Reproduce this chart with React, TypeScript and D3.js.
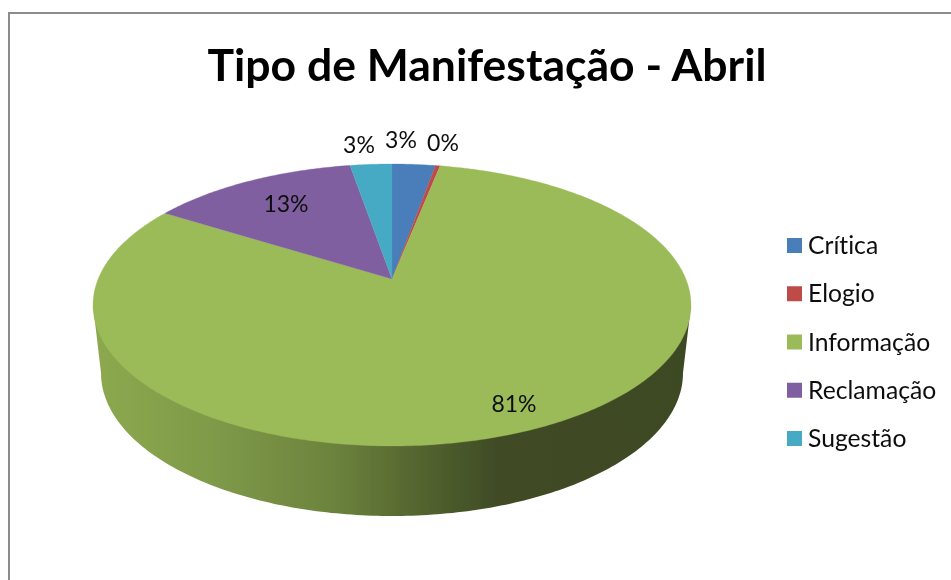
import React from "react";
import * as d3 from "d3";

const categories = ["Crítica", "Elogio", "Informação", "Reclamação", "Sugestão"];
const values = [2.8, 0.3, 80.8, 13.4, 2.7];
const colors = ["#4a7ebb", "#be4b48", "#9bbb59", "#7f5f9f", "#46aac4"];
const title = "Tipo de Manifestação - Abril";
const labelPos: [number, number][] = [[401, 148], [443, 151], [514, 412], [286, 212], [359, 153]];

const W = 951, H = 580;
const apexX = 392, apexY = 279;
const topY = 164, botY = 446, halfW = 299;
// projective map of a unit circle onto the tilted top face
const c = (2 * apexY - topY - botY) / (botY - topY);
const a = apexY - topY + topY * c;
const d = halfW * Math.sqrt(1 - c * c);
const project = (t: number): [number, number] => {
  const u = Math.sin(t), v = -Math.cos(t);
  const w = 1 + c * v;
  return [apexX + (u * d) / w, (apexY + a * v) / w];
};

const pieGen = d3.pie<number>().sort(null).startAngle(0).endAngle(2 * Math.PI);
const arcs = pieGen(values);
const line = d3.line<[number, number]>();
const pct = (v: number) => `${Math.round(v)}%`;

const slicePath = (start: number, end: number) => {
  const n = Math.max(4, Math.ceil((end - start) * 80));
  const pts = d3.range(n + 1).map((i) => project(start + ((end - start) * i) / n));
  return line([[apexX, apexY], ...pts, [apexX, apexY]]) + "Z";
};

const wallCy = 373, wallRx = 291, wallRy = 143, faceCy = (topY + botY) / 2;
const wallPts: [number, number][] = d3.range(0, 181).map((i) => {
  const t = (i / 180) * Math.PI;
  return [apexX + wallRx * Math.cos(t), wallCy + wallRy * Math.sin(t)];
});
const wallPath = line([
  [apexX + halfW, faceCy],
  ...wallPts,
  [apexX - halfW, faceCy],
]) + "Z";

const wallStops: [number, string][] = [
  [0, "#8da94f"],
  [0.2, "#7f9a49"],
  [0.4, "#6c833d"],
  [0.52, "#586a31"],
  [0.62, "#47562a"],
  [0.68, "#3f4b25"],
  [1, "#3e4a24"],
];

const legendY = d3.scalePoint<string>().domain(categories).range([245.5, 438.5]);

export default function App() {
  const font = "Lato, 'Open Sans', sans-serif";
  return (
    <svg width={W} height={H} style={{ position: "absolute", left: 0, top: 0, background: "#fff", fontVariantLigatures: "none" }}>
      <defs>
        <linearGradient id="wall" gradientUnits="userSpaceOnUse" x1={apexX - halfW} x2={apexX + halfW} y1={0} y2={0}>
          {wallStops.map(([o, col]) => (
            <stop key={o} offset={o} stopColor={col} />
          ))}
        </linearGradient>
        <filter id="soft" x="-5%" y="-5%" width="110%" height="110%">
          <feGaussianBlur stdDeviation="0.5" />
        </filter>
        <filter id="softText" x="-5%" y="-20%" width="110%" height="140%">
          <feGaussianBlur stdDeviation="0.3" />
        </filter>
      </defs>
      <path d={`M9 ${H}V13H${W}`} fill="none" stroke="#8c8c8c" strokeWidth={2} />
      <g filter="url(#soft)">
        <path d={wallPath} fill="url(#wall)" />
        {arcs.map((s, i) => (
          <path key={i} d={slicePath(s.startAngle, s.endAngle)} fill={colors[i]} stroke={colors[i]} strokeWidth={0.3} />
        ))}
      </g>
      <g filter="url(#softText)">
        <text x={487} y={81} textAnchor="middle" fontFamily={font} fontWeight={700} fontSize={44.5} fill="#000">
          {title}
        </text>
        {arcs.map((s, i) => (
          <text key={i} x={labelPos[i][0]} y={labelPos[i][1]} textAnchor="middle" fontFamily={font} fontSize={23} fill="#111">
            {pct(values[i])}
          </text>
        ))}
        {categories.map((cat) => (
          <text key={cat} x={808} y={legendY(cat)! + 8.5} fontFamily={font} fontSize={24.7} fill="#111">
            {cat}
          </text>
        ))}
      </g>
      {categories.map((cat, i) => (
        <rect key={cat} x={787} y={legendY(cat)! - 7.5} width={15} height={15} fill={colors[i]} />
      ))}
    </svg>
  );
}
